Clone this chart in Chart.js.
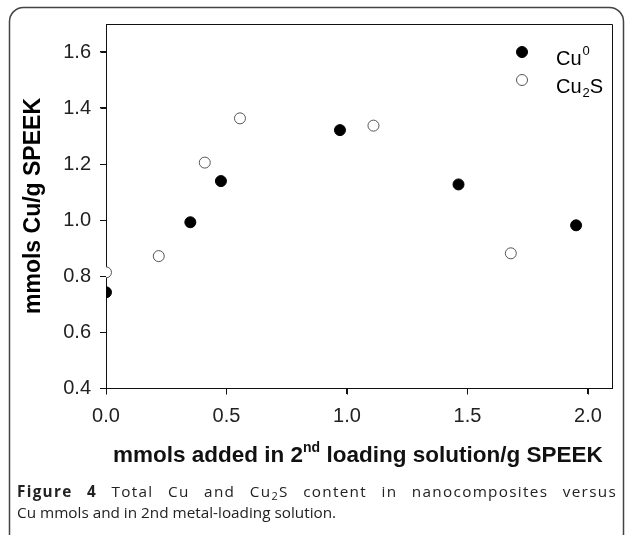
<!DOCTYPE html>
<html>
<head>
<meta charset="utf-8">
<script src="https://cdn.jsdelivr.net/npm/chart.js@4.4.0/dist/chart.umd.min.js"></script>
<style>
    html, body {
        margin: 0;
        padding: 0;
        background: #fff;
    }
    .page {
        position: relative;
        width: 629px;
        height: 535px;
        overflow: hidden;
        font-family: "Liberation Sans", Arial, sans-serif;
    }
    .chart-wrap {
        position: absolute;
        left: 0;
        top: 0;
    }
    .x-title {
        position: absolute;
        left: 113px;
        top: 441px;
        font-size: 22.5px;
        font-weight: bold;
        line-height: 27px;
        color: #111;
        white-space: nowrap;
    }
    .x-title sup {
        font-size: 14px;
        line-height: 0;
        vertical-align: 10px;
    }
    .caption {
        position: absolute;
        left: 17px;
        top: 481px;
        width: 600px;
        font-family: "Open Sans", "Noto Sans", sans-serif;
        font-size: 15.3px;
        line-height: 21px;
        color: #222;
    }
    .caption .line1 {
        display: block;
        letter-spacing: 1.3px;
        text-align: justify;
        text-align-last: justify;
    }
    .caption sub {
        font-size: 11px;
        line-height: 0;
        vertical-align: -3px;
    }
</style>
</head>
<body>
<div class="page">
    <div class="chart-wrap">
        <canvas id="chart" width="629" height="535"></canvas>
    </div>
    <div class="x-title">mmols added in 2<sup>nd</sup> loading solution/g SPEEK</div>
    <div class="caption">
        <span class="line1"><b>Figure 4</b> Total Cu and Cu<sub>2</sub>S content in nanocomposites versus</span>
        Cu mmols and in 2nd metal-loading solution.
    </div>
</div>
<script>
// values
const seriesLabels = ["Cu^0", "Cu_2S"];
const cu0X = [0, 0.35, 0.477, 0.971, 1.463, 1.951];
const cu0Y = [0.742, 0.992, 1.139, 1.321, 1.127, 0.981];
const cu2sX = [0, 0.219, 0.41, 0.556, 1.11, 1.68];
const cu2sY = [0.813, 0.871, 1.205, 1.363, 1.337, 0.881];
const xRange = [0, 2.1];
const yRange = [0.4, 1.7];
const xTickStep = 0.5;
const yTickStep = 0.2;
const yTitle = "mmols Cu/g SPEEK";

Chart.defaults.font.family = '"Liberation Sans", Arial, sans-serif';
Chart.defaults.color = "#222";

function toPoints(xs, ys) {
    return xs.map((x, i) => ({x: x, y: ys[i]}));
}

// draws "Cu^0" / "Cu_2S" with a small raised or lowered character
function drawRichText(ctx, text, x, y) {
    let i = 0;
    while (i < text.length) {
        const ch = text[i];
        if ((ch == "^" || ch == "_") && i + 1 < text.length) {
            ctx.font = "13px 'Liberation Sans', Arial, sans-serif";
            const dy = ch == "^" ? -10 : 4;
            ctx.fillText(text[i + 1], x + 1, y + dy);
            x += ctx.measureText(text[i + 1]).width + 1;
            i += 2;
        } else {
            ctx.font = "20px 'Liberation Sans', Arial, sans-serif";
            ctx.fillText(ch, x, y);
            x += ctx.measureText(ch).width;
            i += 1;
        }
    }
}

// rounded figure box, the plot box and outward tick marks from the scales
const framePlugin = {
    id: "plotFrame",
    beforeDraw(chart) {
        const ctx = chart.ctx;
        const x = 9.5, y = 7.5, w = 614, h = 560, rad = 14;
        ctx.save();
        ctx.strokeStyle = "#444";
        ctx.lineWidth = 1.5;
        ctx.beginPath();
        ctx.moveTo(x + rad, y);
        ctx.arcTo(x + w, y, x + w, y + h, rad);
        ctx.arcTo(x + w, y + h, x, y + h, rad);
        ctx.arcTo(x, y + h, x, y, rad);
        ctx.arcTo(x, y, x + w, y, rad);
        ctx.closePath();
        ctx.stroke();
        ctx.restore();
    },
    beforeDatasetsDraw(chart) {
        const {ctx, chartArea, scales} = chart;
        const l = Math.round(chartArea.left) + 0.5;
        const t = Math.round(chartArea.top) + 0.5;
        const r = Math.round(chartArea.right) + 0.5;
        const b = Math.round(chartArea.bottom) + 0.5;
        ctx.save();
        ctx.strokeStyle = "#111";
        ctx.lineWidth = 1;
        ctx.beginPath();
        ctx.moveTo(l, t);
        ctx.lineTo(r, t);
        ctx.lineTo(r, b);
        ctx.lineTo(l, b);
        ctx.closePath();
        scales.x.ticks.forEach(tick => {
            const px = Math.round(scales.x.getPixelForValue(tick.value)) + 0.5;
            ctx.moveTo(px, b);
            ctx.lineTo(px, b + 6);
        });
        scales.y.ticks.forEach(tick => {
            const py = Math.round(scales.y.getPixelForValue(tick.value)) + 0.5;
            ctx.moveTo(l, py);
            ctx.lineTo(l - 6, py);
        });
        ctx.stroke();
        ctx.restore();
    }
};

const insideLegendPlugin = {
    id: "insideLegend",
    afterDraw(chart) {
        const {ctx, chartArea} = chart;
        ctx.save();
        chart.data.datasets.forEach((ds, i) => {
            const mx = chartArea.right - 90;
            const my = chartArea.top + 28 + i * 28;
            ctx.beginPath();
            ctx.arc(mx, my, ds.pointRadius, 0, Math.PI * 2);
            ctx.fillStyle = ds.backgroundColor;
            ctx.fill();
            ctx.lineWidth = ds.borderWidth;
            ctx.strokeStyle = ds.borderColor;
            ctx.stroke();
            ctx.fillStyle = "#000";
            ctx.textBaseline = "alphabetic";
            drawRichText(ctx, seriesLabels[i], chartArea.right - 56, my + 13);
        });
        ctx.restore();
    }
};

const ctx = document.getElementById("chart");
new Chart(ctx, {
    type: "scatter",
    data: {
        datasets: [{
            label: seriesLabels[0],
            data: toPoints(cu0X, cu0Y),
            backgroundColor: "#000",
            borderColor: "#000",
            borderWidth: 1,
            pointRadius: 5.5
        }, {
            label: seriesLabels[1],
            data: toPoints(cu2sX, cu2sY),
            backgroundColor: "#fff",
            borderColor: "#555",
            borderWidth: 1,
            pointRadius: 5.5
        }]
    },
    options: {
        responsive: false,
        animation: false,
        devicePixelRatio: 1,
        layout: {
            padding: {top: 24, right: 17, bottom: 97, left: 0}
        },
        plugins: {
            legend: {display: false},
            tooltip: {enabled: false}
        },
        scales: {
            x: {
                type: "linear",
                min: xRange[0],
                max: xRange[1],
                grid: {
                    color: "#111",
                    drawOnChartArea: false,
                    tickLength: 6
                },
                border: {color: "#111"},
                ticks: {
                    stepSize: xTickStep,
                    includeBounds: false,
                    font: {size: 20},
                    padding: 10,
                    callback: (v) => v.toFixed(1)
                }
            },
            y: {
                type: "linear",
                min: yRange[0],
                max: yRange[1],
                grid: {
                    color: "#111",
                    drawOnChartArea: false,
                    tickLength: 6
                },
                border: {color: "#111"},
                ticks: {
                    stepSize: yTickStep,
                    includeBounds: false,
                    font: {size: 20},
                    padding: 9,
                    callback: (v) => v.toFixed(1)
                },
                title: {
                    display: true,
                    text: yTitle,
                    color: "#000",
                    font: {size: 23, weight: "bold"},
                    padding: {top: 19.7, bottom: 6.9}
                }
            }
        }
    },
    plugins: [framePlugin, insideLegendPlugin]
});
</script>
</body>
</html>
